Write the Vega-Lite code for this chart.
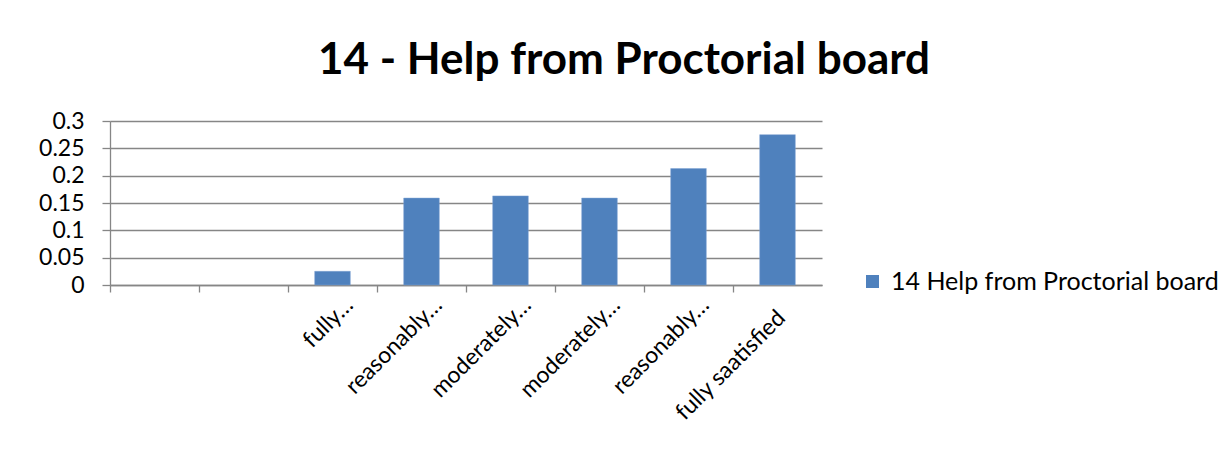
{
  "$schema": "https://vega.github.io/schema/vega-lite/v6.json",
  "width": 712,
  "height": 164,
  "autosize": "none",
  "padding": {"left": 110, "top": 121, "right": 409, "bottom": 181},
  "background": "white",
  "title": {
    "text": "14 - Help from Proctorial board",
    "font": "Lato",
    "fontSize": 44,
    "fontWeight": "bold",
    "color": "#000000",
    "anchor": "middle",
    "frame": "group",
    "dx": 158,
    "offset": 27
  },
  "data": {
    "values": [
      {"category": "blank1", "value": null},
      {"category": "blank2", "value": null},
      {"category": "fully dissatisfied", "value": 0.025},
      {"category": "reasonably dissatisfied", "value": 0.159},
      {"category": "moderately dissatisfied", "value": 0.163},
      {"category": "moderately satisfied", "value": 0.159},
      {"category": "reasonably satisfied", "value": 0.213},
      {"category": "fully saatisfied", "value": 0.275}
    ]
  },
  "mark": {"type": "bar", "color": "#4F81BD", "stroke": "#7FA3D3", "strokeWidth": 0.5},
  "encoding": {
    "x": {
      "field": "category",
      "type": "nominal",
      "sort": null,
      "scale": {
        "domain": ["blank1", "blank2", "fully dissatisfied", "reasonably dissatisfied", "moderately dissatisfied", "moderately satisfied", "reasonably satisfied", "fully saatisfied"],
        "paddingInner": 0.6,
        "paddingOuter": 0.3
      },
      "axis": {
        "title": null,
        "labelExpr": "datum.value == 'fully saatisfied' ? datum.value : (indexof(datum.value, 'blank') == 0 ? '' : split(datum.value, ' ')[0] + '…')",
        "labelAngle": -45,
        "labelAlign": "right",
        "labelBaseline": "alphabetic",
        "labelFont": "Lato",
        "labelFontSize": 23,
        "labelColor": "#000000",
        "labelPadding": {"condition": {"test": "datum.value == 'fully saatisfied'", "value": 27}, "value": 14},
        "labelOffset": {"condition": {"test": "datum.value == 'fully saatisfied'", "value": 53}, "value": 66},
        "tickOffset": -44.5,
        "tickSize": 7,
        "tickColor": "#868686",
        "tickWidth": 1.3,
        "domainColor": "#868686",
        "domainWidth": 1.3,
        "grid": false,
        "labelOverlap": false,
        "labelLimit": 300
      }
    },
    "y": {
      "field": "value",
      "type": "quantitative",
      "scale": {"domain": [0, 0.3], "nice": false},
      "axis": {
        "title": null,
        "values": [0, 0.05, 0.1, 0.15, 0.2, 0.25, 0.3],
        "format": ".2~f",
        "labelFont": "Lato",
        "labelFontSize": 23,
        "labelColor": "#000000",
        "labelPadding": 18,
        "tickSize": 8,
        "tickColor": "#868686",
        "tickWidth": 1.3,
        "domainColor": "#868686",
        "domainWidth": 1.3,
        "gridColor": "#868686",
        "gridWidth": 1.3
      }
    },
    "color": {
      "datum": "14 Help from Proctorial board",
      "type": "nominal",
      "scale": {"range": ["#4F81BD"]},
      "legend": {
        "title": null,
        "orient": "none",
        "legendX": 750,
        "legendY": 148,
        "symbolType": "square",
        "symbolSize": 170,
        "symbolStrokeWidth": 0,
        "labelFont": "Lato",
        "labelFontSize": 25,
        "labelOffset": 6,
        "labelColor": "#000000",
        "labelLimit": 400
      }
    }
  },
  "config": {"view": {"stroke": null}}
}
